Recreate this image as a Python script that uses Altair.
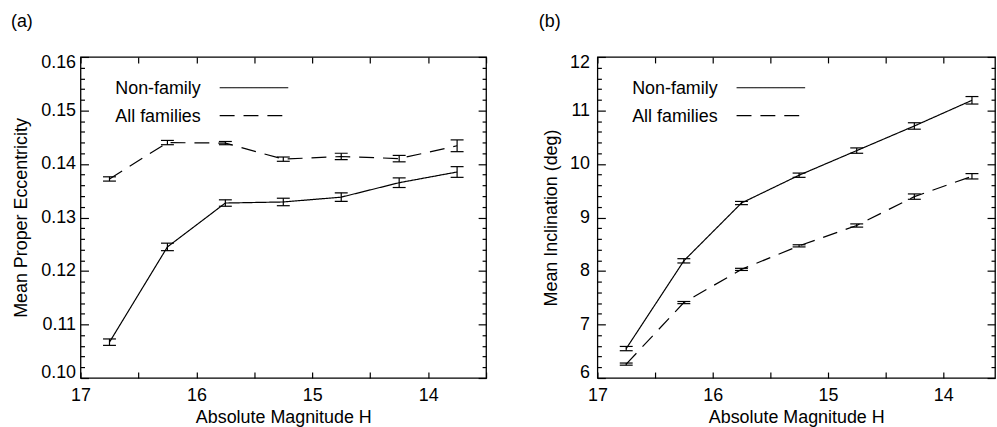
import altair as alt
import pandas as pd

FONT = "Liberation Sans"

# ---- data ----
H = [16.75, 16.25, 15.75, 15.25, 14.75, 14.25, 13.75]
series = ["Non-family", "All families"]

ecc_nonfam = [0.1067, 0.1245, 0.1327, 0.1329, 0.1338, 0.1365, 0.1385]
ecc_nonfam_err = [0.0006, 0.0007, 0.0006, 0.0007, 0.0008, 0.0009, 0.0010]
ecc_fam = [0.1372, 0.1440, 0.1439, 0.1409, 0.1414, 0.1410, 0.1434]
ecc_fam_err = [0.0004, 0.0004, 0.0003, 0.0004, 0.0006, 0.0006, 0.0011]

inc_nonfam = [6.55, 8.19, 9.27, 9.79, 10.25, 10.71, 11.19]
inc_nonfam_err = [0.04, 0.04, 0.03, 0.04, 0.05, 0.06, 0.07]
inc_fam = [6.26, 7.41, 8.03, 8.47, 8.85, 9.39, 9.77]
inc_fam_err = [0.02, 0.02, 0.02, 0.02, 0.03, 0.05, 0.05]

# axis tick values / labels
x_ticks_a = [17, 16.5, 16, 15.5, 15, 14.5, 14, 13.5]
x_ticks_b = [17, 16.5, 16, 15.5, 15, 14.5, 14]
ecc_major = [0.10, 0.11, 0.12, 0.13, 0.14, 0.15, 0.16]
ecc_minor = [round(0.10 + 0.002 * i, 3) for i in range(31) if i % 5 != 0]
inc_major = [6, 7, 8, 9, 10, 11, 12]
inc_minor = [round(6 + 0.2 * i, 1) for i in range(31) if i % 5 != 0]


def make_df(v1, e1, v2, e2):
    rows = []
    for s, vals, errs in [(series[0], v1, e1), (series[1], v2, e2)]:
        for h, v, e in zip(H, vals, errs):
            rows.append({"H": h, "value": v, "lo": v - e, "hi": v + e, "series": s})
    return pd.DataFrame(rows)


def panel(label, df, y_title, ydom, ymajor, yminor, yfmt, xdom, xticks,
          width, lab_pad, title_pad, title_dx):
    xs = alt.Scale(domain=xdom, nice=False, zero=False)
    ys = alt.Scale(domain=ydom, nice=False, zero=False)

    x_bottom = alt.Axis(orient="bottom", values=xticks,
                        labelExpr="datum.value % 1 == 0 ? format(datum.value, 'd') : ''",
                        tickSize=6, offset=-6, domain=False, grid=False,
                        labelPadding=9, labelFlush=False, labelOverlap=False,
                        title="Absolute Magnitude H", titlePadding=4)
    x_top = alt.Axis(orient="top", values=xticks, tickSize=6, offset=-6,
                     labels=False, domain=False, grid=False, title=None)
    y_left = alt.Axis(orient="left", values=ymajor, format=yfmt, tickSize=8, offset=-8,
                      domain=False, grid=False, labelPadding=lab_pad,
                      labelFlush=True, labelFlushOffset=3, labelOverlap=False,
                      title=y_title, titlePadding=title_pad)
    y_left_minor = alt.Axis(orient="left", values=yminor, tickSize=4, offset=-4,
                            labels=False, domain=False, grid=False, title=None)
    y_right = alt.Axis(orient="right", values=ymajor, tickSize=8, offset=-8,
                       labels=False, domain=False, grid=False, title=None)
    y_right_minor = alt.Axis(orient="right", values=yminor, tickSize=4, offset=-4,
                             labels=False, domain=False, grid=False, title=None)

    base = alt.Chart(df)
    line = base.mark_line(color="black", strokeWidth=1.2).encode(
        x=alt.X("H:Q", scale=xs, axis=x_bottom),
        y=alt.Y("value:Q", scale=ys, axis=y_left),
        strokeDash=alt.StrokeDash("series:N",
                                  scale=alt.Scale(domain=series, range=[[1, 0], [15, 9]]),
                                  legend=None),
    )
    bars = base.mark_rule(color="black", strokeWidth=1.2).encode(
        x=alt.X("H:Q", scale=xs, axis=x_top),
        y=alt.Y("lo:Q", scale=ys, axis=y_left_minor),
        y2="hi:Q",
    )
    cap_lo = base.mark_tick(color="black", orient="horizontal", size=13,
                            thickness=1.2, opacity=1).encode(
        x=alt.X("H:Q", scale=xs, axis=None),
        y=alt.Y("lo:Q", scale=ys, axis=y_right),
    )
    cap_hi = base.mark_tick(color="black", orient="horizontal", size=13,
                            thickness=1.2, opacity=1).encode(
        x=alt.X("H:Q", scale=xs, axis=None),
        y=alt.Y("hi:Q", scale=ys, axis=y_right_minor),
    )

    leg = []
    for i, (name, dash, x2) in enumerate([(series[0], [1, 0], 209), (series[1], [15, 9], 203)]):
        ldf = pd.DataFrame({"name": [name]})
        yy = 31 + 28 * i
        leg.append(alt.Chart(ldf).mark_text(align="left", baseline="middle", font=FONT,
                                            fontSize=18, color="black").encode(
            x=alt.value(35), y=alt.value(yy + 1), text="name:N"))
        leg.append(alt.Chart(ldf).mark_rule(color="black", strokeWidth=1.2,
                                            strokeDash=dash).encode(
            x=alt.value(140), x2=alt.value(x2), y=alt.value(yy)))

    return alt.layer(line, bars, cap_lo, cap_hi, *leg).resolve_axis(
        x="independent", y="independent"
    ).properties(
        width=width, height=323,
        title=alt.TitleParams(text=label, anchor="start", frame="group", dx=title_dx,
                              offset=23, fontSize=18, fontWeight="normal", font=FONT,
                              color="black"),
    )


pa = panel("(a)", make_df(ecc_nonfam, ecc_nonfam_err, ecc_fam, ecc_fam_err),
           "Mean Proper Eccentricity", [0.10, 0.16], ecc_major, ecc_minor, ".2f",
           [17, 13.5], x_ticks_a, 408, 5, 10, -70)
pb = panel("(b)", make_df(inc_nonfam, inc_nonfam_err, inc_fam, inc_fam_err),
           "Mean Inclination (deg)", [6, 12], inc_major, inc_minor, "d",
           [17, 13.55], x_ticks_b, 400, 8, 9, -59)

chart = alt.hconcat(pa, pb, spacing=50).properties(
    padding={"left": 10, "top": 11, "right": 0, "bottom": 0}
).configure_view(
    stroke="black", strokeWidth=1.3
).configure_axis(
    labelFont=FONT, titleFont=FONT, labelFontSize=18, titleFontSize=18,
    labelColor="black", titleColor="black", tickColor="black", tickWidth=1.2,
    titleFontWeight="normal"
)

chart.save("out.html", embed_options={"renderer": "svg", "actions": False})
